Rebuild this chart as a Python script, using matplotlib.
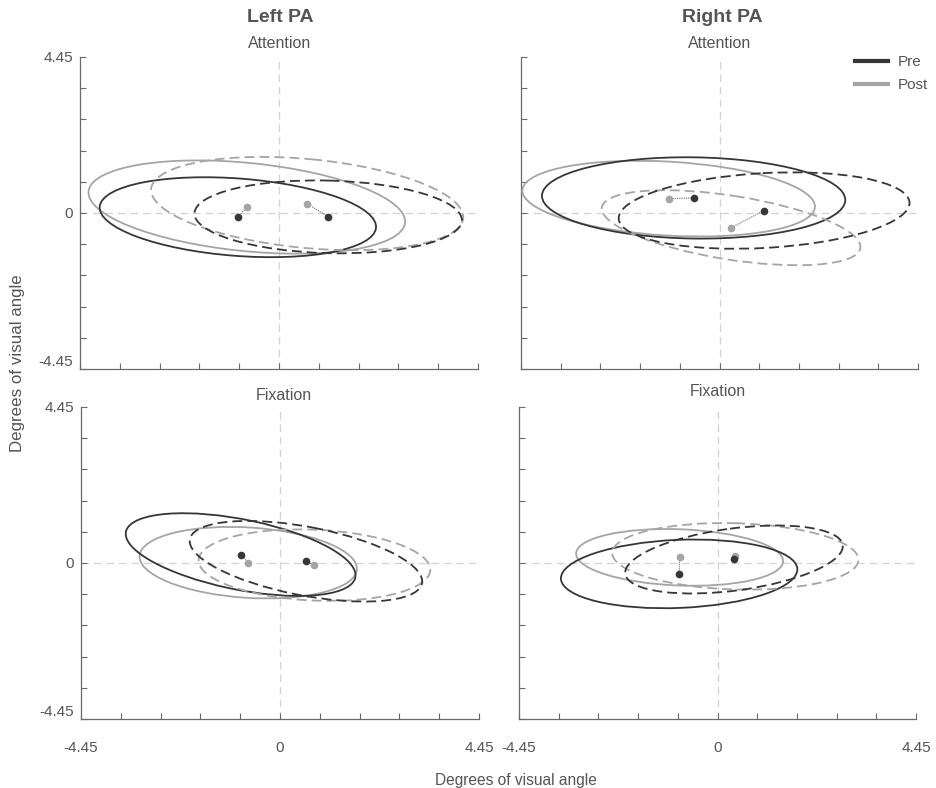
import numpy as np
import matplotlib
matplotlib.use("Agg")
import matplotlib.pyplot as plt
from matplotlib.patches import Ellipse
from matplotlib.lines import Line2D

plt.rcParams['font.family'] = ['Liberation Sans', 'DejaVu Sans']

# paneles: Left/Attention, Right/Attention, Left/Fixation, Right/Fixation
paneles = ["Left Attention", "Right Attention", "Left Fixation", "Right Fixation"]
lim = 4.45

# [panel][set]  set 0 = linea continua, set 1 = linea discontinua
pre_cx = [[-0.92, 1.10], [-0.58, 1.00], [-0.88, 0.58], [-0.86, 0.37]]
pre_cy = [[-0.12, -0.11], [0.43, 0.07], [0.24, 0.05], [-0.31, 0.10]]
pre_sx = [[3.09, 2.99], [3.40, 3.26], [2.57, 2.60], [2.65, 2.44]]
pre_sy = [[1.14, 1.04], [1.16, 1.09], [1.18, 1.15], [0.98, 0.97]]
pre_r = [[-0.24, -0.09], [-0.05, 0.20], [-0.50, -0.50], [0.13, 0.39]]

post_cx = [[-0.72, 0.63], [-1.14, 0.26], [-0.71, 0.77], [-0.85, 0.40]]
post_cy = [[0.17, 0.27], [0.41, -0.42], [0.01, -0.06], [0.16, 0.19]]
post_sx = [[3.54, 3.49], [3.28, 2.90], [2.43, 2.59], [2.32, 2.76]]
post_sy = [[1.33, 1.33], [1.08, 1.07], [1.02, 1.02], [0.81, 0.95]]
post_r = [[-0.31, -0.29], [-0.21, -0.51], [-0.17, -0.13], [-0.13, -0.10]]

c_pre = "#363636"
c_post = "#a5a5a5"
c_txt = "#555555"
estilos = ["-", (0, (5.5, 2.8))]


def elipse(cx, cy, sx, sy, r, color, ls):
    cov = np.array([[sx**2, r*sx*sy], [r*sx*sy, sy**2]])
    vals, vecs = np.linalg.eigh(cov)
    v = vecs[:, 1]
    ang = np.degrees(np.arctan2(v[1], v[0]))
    return Ellipse((cx, cy), 2*np.sqrt(vals[1]), 2*np.sqrt(vals[0]), angle=ang,
                   fill=False, edgecolor=color, lw=1.3, linestyle=ls, zorder=3)


fig = plt.figure(figsize=(9.36, 7.88), dpi=100)
W, H = 936, 788
cajas = [(80, 57, 478, 369), (521, 57, 918, 369), (81, 407, 479, 719), (519, 407, 916, 719)]

ticks = np.linspace(-lim, lim, 11)
etiquetas = ["" for t in ticks]
etiquetas[0] = "-4.45"
etiquetas[5] = "0"
etiquetas[10] = "4.45"

for i, (x0, y0, x1, y1) in enumerate(cajas):
    ax = fig.add_axes([x0/W, 1 - y1/H, (x1 - x0)/W, (y1 - y0)/H])
    ax.set_xlim(-lim, lim)
    ax.set_ylim(-lim, lim)
    for s in ["top", "right"]:
        ax.spines[s].set_visible(False)
    for s in ["left", "bottom"]:
        ax.spines[s].set_color("#6a6a6a")
        ax.spines[s].set_linewidth(0.9)
    ax.set_xticks(ticks)
    ax.set_yticks(ticks)
    ax.set_xticklabels(etiquetas if i >= 2 else [""]*11)
    ax.set_yticklabels(etiquetas if i % 2 == 0 else [""]*11)
    ax.tick_params(direction="in", length=4, width=0.8, color="#6a6a6a",
                   labelcolor=c_txt, labelsize=11, pad=5)
    ax.tick_params(axis="x", pad=16)
    if i % 2 == 0:
        ax.get_yticklabels()[0].set_va("bottom")
    ax.axhline(0, color="#d2d2d2", lw=0.9, ls=(0, (6, 4)), zorder=1)
    ax.axvline(0, color="#d2d2d2", lw=0.9, ls=(0, (6, 4)), zorder=1)

    for k in range(2):
        ax.add_patch(elipse(post_cx[i][k], post_cy[i][k], post_sx[i][k], post_sy[i][k],
                            post_r[i][k], c_post, estilos[k]))
        ax.add_patch(elipse(pre_cx[i][k], pre_cy[i][k], pre_sx[i][k], pre_sy[i][k],
                            pre_r[i][k], c_pre, estilos[k]))
        ax.plot([pre_cx[i][k], post_cx[i][k]], [pre_cy[i][k], post_cy[i][k]],
                color="#666666", lw=0.8, ls=(0, (1, 1)), zorder=4)
        ax.plot(post_cx[i][k], post_cy[i][k], "o", color=c_post, ms=4.5, zorder=5)
        ax.plot(pre_cx[i][k], pre_cy[i][k], "o", color=c_pre, ms=4.5, zorder=5)

    if i == 1:
        h = [Line2D([], [], color=c_pre, lw=3), Line2D([], [], color=c_post, lw=3)]
        ax.legend(h, ["Pre", "Post"], loc="upper right", bbox_to_anchor=(1.04, 1.025),
                  frameon=False, fontsize=11, labelcolor=c_txt, handlelength=2.2,
                  handletextpad=0.6, borderaxespad=0, labelspacing=0.6)

fig.text(280/W, 1 - 17/H, "Left PA", ha="center", va="center", fontsize=14,
         fontweight="bold", color=c_txt)
fig.text(722/W, 1 - 17/H, "Right PA", ha="center", va="center", fontsize=14,
         fontweight="bold", color=c_txt)
fig.text(280/W, 1 - 44/H, "Attention", ha="center", va="center", fontsize=11.5, color=c_txt)
fig.text(720/W, 1 - 44/H, "Attention", ha="center", va="center", fontsize=11.5, color=c_txt)
fig.text(284/W, 1 - 395/H, "Fixation", ha="center", va="center", fontsize=11.5, color=c_txt)
fig.text(718/W, 1 - 392/H, "Fixation", ha="center", va="center", fontsize=11.5, color=c_txt)
fig.text(18/W, 1 - 363/H, "Degrees of visual angle", ha="center", va="center",
         rotation=90, fontsize=12.2, color=c_txt)
fig.text(516/W, 1 - 780/H, "Degrees of visual angle", ha="center", va="center",
         fontsize=11.2, color=c_txt)

fig.savefig("out.png", dpi=100, facecolor="white")
